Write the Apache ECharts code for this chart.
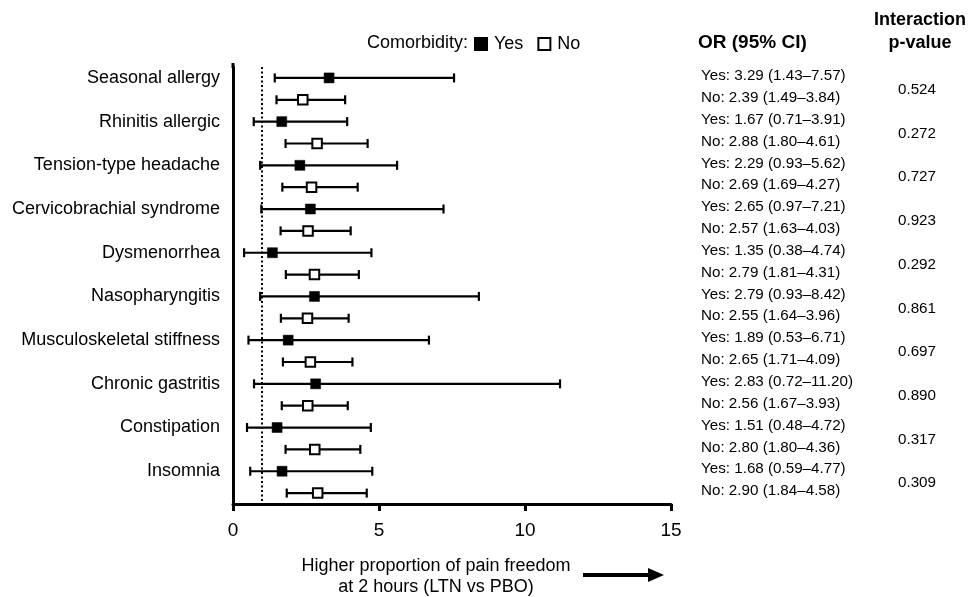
<!DOCTYPE html>
<html>
<head>
<meta charset="utf-8">
<script src="https://cdn.jsdelivr.net/npm/echarts@6/dist/echarts.min.js"></script>
<style>html,body{margin:0;padding:0;background:#fff}#c{width:969px;height:597px}</style>
</head>
<body>
<div id="c"></div>
<script>
const categories = ['Seasonal allergy', 'Rhinitis allergic', 'Tension-type headache', 'Cervicobrachial syndrome', 'Dysmenorrhea', 'Nasopharyngitis', 'Musculoskeletal stiffness', 'Chronic gastritis', 'Constipation', 'Insomnia'];
const yesOR   = [3.29, 1.67, 2.29, 2.65, 1.35, 2.79, 1.89, 2.83, 1.51, 1.68];
const yesLow  = [1.43, 0.71, 0.93, 0.97, 0.38, 0.93, 0.53, 0.72, 0.48, 0.59];
const yesHigh = [7.57, 3.91, 5.62, 7.21, 4.74, 8.42, 6.71, 11.20, 4.72, 4.77];
const noOR    = [2.39, 2.88, 2.69, 2.57, 2.79, 2.55, 2.65, 2.56, 2.80, 2.90];
const noLow   = [1.49, 1.80, 1.69, 1.63, 1.81, 1.64, 1.71, 1.67, 1.80, 1.84];
const noHigh  = [3.84, 4.61, 4.27, 4.03, 4.31, 3.96, 4.09, 3.93, 4.36, 4.58];
const pValues = ['0.524', '0.272', '0.727', '0.923', '0.292', '0.861', '0.697', '0.890', '0.317', '0.309'];
const xTicks = [0, 5, 10, 15];
const refLine = 1;

const FONT = '"Liberation Sans", Arial, sans-serif';
const f2 = v => v.toFixed(2);

// 20 slots: Yes row at 2i, No row at 2i+1
const slotLabels = [];
categories.forEach(c => { slotLabels.push(c); slotLabels.push(''); });

const yesPts = yesOR.map((v, i) => [v, 2 * i]);
const noPts = noOR.map((v, i) => [v, 2 * i + 1]);
const bars = [];
categories.forEach((c, i) => {
  bars.push([yesLow[i], 2 * i, yesHigh[i]]);
  bars.push([noLow[i], 2 * i + 1, noHigh[i]]);
});
const orTexts = [];
const orSlots = [];
categories.forEach((c, i) => {
  orTexts.push('Yes: ' + f2(yesOR[i]) + ' (' + f2(yesLow[i]) + '\u2013' + f2(yesHigh[i]) + ')');
  orSlots.push([0, 2 * i]);
  orTexts.push('No: ' + f2(noOR[i]) + ' (' + f2(noLow[i]) + '\u2013' + f2(noHigh[i]) + ')');
  orSlots.push([0, 2 * i + 1]);
});
const pSlots = pValues.map((p, i) => [0, 2 * i]);

const chart = echarts.init(document.getElementById('c'), null, {renderer: 'canvas'});
chart.setOption({
  animation: false,
  backgroundColor: '#fff',
  textStyle: {fontFamily: FONT},
  grid: {left: 233, right: 298, top: 67, bottom: 93},
  legend: {
    data: ['Yes', 'No'],
    left: 469, top: 30,
    icon: 'rect', itemWidth: 12, itemHeight: 12, itemGap: 14,
    textStyle: {fontSize: 18, color: '#000', fontFamily: FONT, padding: [0, 0, 0, 2]}
  },
  xAxis: {
    type: 'value', min: xTicks[0], max: xTicks[xTicks.length - 1], interval: 5,
    axisLine: {show: true, lineStyle: {color: '#000', width: 3}},
    axisTick: {show: true, length: 7, lineStyle: {color: '#000', width: 3}},
    axisLabel: {fontSize: 19, color: '#000', margin: 17, fontFamily: FONT},
    splitLine: {show: false}
  },
  yAxis: {
    type: 'category', data: slotLabels, inverse: true,
    axisLine: {show: true, lineStyle: {color: '#000', width: 3}},
    axisTick: {show: false},
    axisLabel: {fontSize: 18, color: '#000', margin: 13, fontFamily: FONT, interval: 0},
    splitLine: {show: false}
  },
  graphic: [
    {type: 'line', shape: {x1: 233, y1: 63, x2: 233, y2: 68}, style: {stroke: '#000', lineWidth: 3}},
    {type: 'text', x: 468, y: 43, style: {text: 'Comorbidity:', fontSize: 18, fill: '#000', fontFamily: FONT, textAlign: 'right', verticalAlign: 'middle'}},
    {type: 'text', x: 698, y: 43, style: {text: 'OR (95% CI)', fontSize: 19, fontWeight: 'bold', fill: '#000', fontFamily: FONT, textAlign: 'left', verticalAlign: 'middle'}},
    {type: 'text', x: 920, y: 20, style: {text: 'Interaction', fontSize: 18, fontWeight: 'bold', fill: '#000', fontFamily: FONT, textAlign: 'center', verticalAlign: 'middle'}},
    {type: 'text', x: 920, y: 43, style: {text: 'p-value', fontSize: 18, fontWeight: 'bold', fill: '#000', fontFamily: FONT, textAlign: 'center', verticalAlign: 'middle'}},
    {type: 'text', x: 436, y: 566, style: {text: 'Higher proportion of pain freedom', fontSize: 18, fill: '#000', fontFamily: FONT, textAlign: 'center', verticalAlign: 'middle'}},
    {type: 'text', x: 436, y: 587, style: {text: 'at 2 hours (LTN vs PBO)', fontSize: 18, fill: '#000', fontFamily: FONT, textAlign: 'center', verticalAlign: 'middle'}},
    {type: 'line', shape: {x1: 583, y1: 575, x2: 652, y2: 575}, style: {stroke: '#000', lineWidth: 4}},
    {type: 'polygon', shape: {points: [[648, 568], [664, 575], [648, 582]]}, style: {fill: '#000'}}
  ],
  series: [
    {
      name: 'errorbars', type: 'custom', z: 3,
      data: bars,
      encode: {x: 0, y: 1},
      renderItem: function (params, api) {
        const y = api.value(1);
        const p1 = api.coord([api.value(0), y]);
        const p2 = api.coord([api.value(2), y]);
        const h = 4.5;
        const st = {stroke: '#000', lineWidth: 2.2};
        return {type: 'group', children: [
          {type: 'line', shape: {x1: p1[0], y1: p1[1], x2: p2[0], y2: p2[1]}, style: st},
          {type: 'line', shape: {x1: p1[0], y1: p1[1] - h, x2: p1[0], y2: p1[1] + h}, style: st},
          {type: 'line', shape: {x1: p2[0], y1: p2[1] - h, x2: p2[0], y2: p2[1] + h}, style: st}
        ]};
      }
    },
    {
      name: 'Yes', type: 'scatter', z: 5, symbol: 'rect', symbolSize: 10,
      itemStyle: {color: '#000', borderColor: '#000', borderWidth: 0.5, opacity: 1},
      data: yesPts,
      markLine: {
        silent: true, symbol: 'none', label: {show: false}, z: 1,
        lineStyle: {color: '#000', type: [2, 2.5], width: 2},
        data: [{xAxis: refLine}]
      }
    },
    {
      name: 'No', type: 'scatter', z: 5, symbol: 'rect', symbolSize: 9.5,
      itemStyle: {color: '#fff', borderColor: '#000', borderWidth: 2, opacity: 1},
      data: noPts
    },
    {
      name: 'orText', type: 'custom', z: 4, clip: false,
      data: orSlots, encode: {x: 0, y: 1},
      renderItem: function (params, api) {
        const pt = api.coord([0, api.value(1)]);
        return {type: 'text', x: 701, y: pt[1] - 2, style: {text: orTexts[params.dataIndex], fontSize: 15.2, fill: '#000', fontFamily: FONT, textAlign: 'left', verticalAlign: 'middle'}};
      }
    },
    {
      name: 'pText', type: 'custom', z: 4, clip: false,
      data: pSlots, encode: {x: 0, y: 1},
      renderItem: function (params, api) {
        const a = api.coord([0, api.value(1)]);
        const b = api.coord([0, api.value(1) + 1]);
        return {type: 'text', x: 917, y: (a[1] + b[1]) / 2 + 1, style: {text: pValues[params.dataIndex], fontSize: 15.2, fill: '#000', fontFamily: FONT, textAlign: 'center', verticalAlign: 'middle'}};
      }
    }
  ]
});
</script>
</body>
</html>
